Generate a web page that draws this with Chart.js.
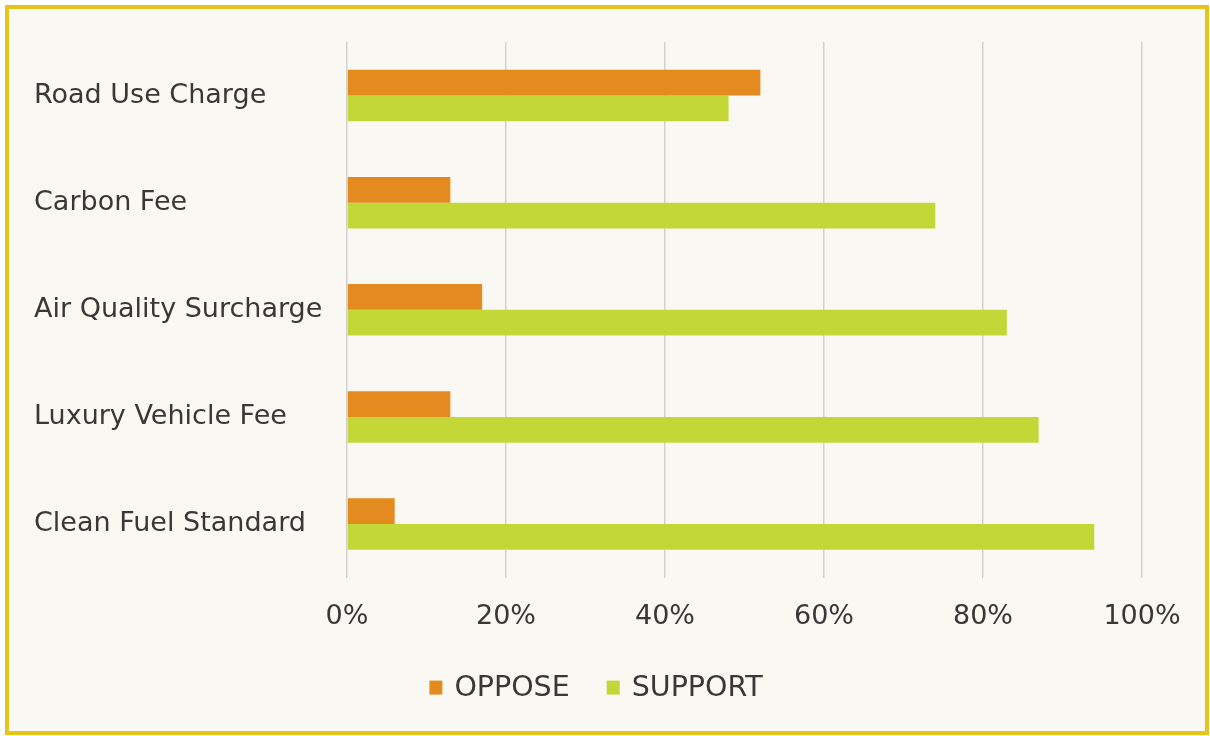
<!DOCTYPE html>
<html>
<head>
<meta charset="utf-8">
<script src="https://cdn.jsdelivr.net/npm/chart.js@4.4.0/dist/chart.umd.min.js"></script>
<style>
  html, body { margin: 0; padding: 0; background: #ffffff; }
  #frame {
    position: absolute; left: 5px; top: 5px;
    width: 1196px; height: 722px;
    border: 4px solid #e6c41c;
    background: #faf8f3;
  }
  #wrap { position: absolute; left: 0; top: 0; width: 1210px; height: 736px; }
</style>
</head>
<body>
<div id="frame"></div>
<div id="wrap"><canvas id="taxChart" width="1210" height="736"></canvas></div>
<script>
// === Data ===
const measures = ['Road Use Charge', 'Carbon Fee', 'Air Quality Surcharge', 'Luxury Vehicle Fee', 'Clean Fuel Standard'];
const opposeValues = [52, 13, 17, 13, 6];
const supportValues = [48, 74, 83, 87, 94];
const xTicks = [0, 20, 40, 60, 80, 100];

const ORANGE = '#e48b1f';
const GREEN = '#c3d837';
const TEXT = '#383838';
const FONT = '"DejaVu Sans", sans-serif';

// legend under the axis: square swatch + caps label, centred a bit left of middle
const smallLegend = {
    id: 'smallLegend',
    afterDraw(chart) {
        const ctx = chart.ctx;
        const y = chart.chartArea.bottom + 110;
        const box = 13, gap = 12, itemGap = 37;
        ctx.save();
        ctx.font = '28.5px ' + FONT;
        ctx.textBaseline = 'middle';
        const items = chart.data.datasets.map(ds => ({ ds, w: ctx.measureText(ds.label).width }));
        const total = items.reduce((s, it) => s + box + gap + it.w, 0) + itemGap * (items.length - 1);
        let x = chart.width / 2 - 9 - total / 2;
        items.forEach(({ ds, w }) => {
            ctx.fillStyle = ds.backgroundColor;
            ctx.fillRect(x, y - 7, box, 14);
            ctx.fillStyle = TEXT;
            ctx.fillText(ds.label, x + box + gap, y + 1);
            x += box + gap + w + itemGap;
        });
        ctx.restore();
    }
};

const ctx = document.getElementById('taxChart').getContext('2d');
const taxChart = new Chart(ctx, {
    type: 'bar',
    data: {
        labels: measures,
        datasets: [
            { label: 'OPPOSE', data: opposeValues, backgroundColor: ORANGE },
            { label: 'SUPPORT', data: supportValues, backgroundColor: GREEN }
        ]
    },
    options: {
        indexAxis: 'y',
        responsive: false,
        animation: false,
        layout: { padding: { left: 34, right: 68, top: 42, bottom: 80 } },
        datasets: { bar: { barPercentage: 1, categoryPercentage: 0.48 } },
        plugins: {
            legend: { display: false },
            tooltip: { enabled: false }
        },
        scales: {
            x: {
                min: 0,
                max: 100,
                afterBuildTicks: (scale) => { scale.ticks = xTicks.map(v => ({ value: v })); },
                grid: { color: '#d3d1cd', lineWidth: 1.5, drawTicks: false },
                border: { display: false },
                ticks: {
                    color: TEXT,
                    font: { family: FONT, size: 27 },
                    padding: 23,
                    callback: (v) => v + '%'
                }
            },
            y: {
                afterFit: (scale) => { scale.width = 313; },
                grid: { display: false },
                border: { display: false },
                ticks: {
                    color: TEXT,
                    crossAlign: 'far',
                    font: { family: FONT, size: 27 }
                }
            }
        }
    },
    plugins: [smallLegend]
});
</script>
</body>
</html>
